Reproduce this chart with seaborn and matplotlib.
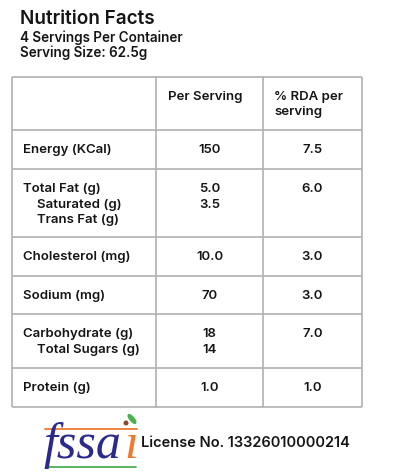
import matplotlib
matplotlib.use("Agg")
import matplotlib.pyplot as plt
import seaborn as sns
from matplotlib.patches import Ellipse, Circle

# Table content
col_headers = ["Per Serving", "% RDA per\nserving"]
nutrients = [
    ["Energy (KCal)"],
    ["Total Fat (g)", "Saturated (g)", "Trans Fat (g)"],
    ["Cholesterol (mg)"],
    ["Sodium (mg)"],
    ["Carbohydrate (g)", "Total Sugars (g)"],
    ["Protein (g)"],
]
per_serving = [["150"], ["5.0", "3.5"], ["10.0"], ["70"], ["18", "14"], ["1.0"]]
rda = ["7.5", "6.0", "3.0", "3.0", "7.0", "1.0"]

title = "Nutrition Facts"
subtitle = ["4 Servings Per Container", "Serving Size: 62.5g"]
license_text = "License No. 13326010000214"

sns.set_theme(style="white")
plt.rcParams["font.family"] = ["Inter", "DejaVu Sans"]

W, H = 416, 473
fig = plt.figure(figsize=(W / 100, H / 100), dpi=100)
ax = fig.add_axes([0, 0, 1, 1])
ax.set_xlim(0, W)
ax.set_ylim(H, 0)
ax.axis("off")

TXT = "#151515"
GRID = "#b0b0b0"

# header block
ax.text(20, 19, title, fontsize=13.6, fontweight="semibold", color=TXT, va="center")
ax.text(20, 38, subtitle[0], fontsize=9.7, fontweight="semibold", color=TXT, va="center")
ax.text(20, 53, subtitle[1], fontsize=9.7, fontweight="semibold", color=TXT, va="center")

# table grid
col_x = [12, 156, 263, 362]
row_y = [77, 130, 169, 237, 276, 314, 368, 407]
for y in row_y:
    ax.plot([col_x[0], col_x[-1]], [y, y], color=GRID, lw=1.2, solid_capstyle="butt")
for x in col_x:
    ax.plot([x, x], [row_y[0], row_y[-1]], color=GRID, lw=1.2, solid_capstyle="butt")

body = dict(fontsize=9.5, fontweight="semibold", color=TXT, va="center")
ax.text(col_x[1] + 12, row_y[0] + 20, col_headers[0], **body)
ax.text(col_x[2] + 11, row_y[0] + 20, col_headers[1].split("\n")[0], **body)
ax.text(col_x[2] + 11, row_y[0] + 35, col_headers[1].split("\n")[1], **body)

step = 15.5
for i, names in enumerate(nutrients):
    top = row_y[i + 1] + 20
    for j, name in enumerate(names):
        indent = 0 if j == 0 else 14
        ax.text(col_x[0] + 11 + indent, top + j * step, name, **body)
    cx1 = (col_x[1] + col_x[2]) / 2
    for j, v in enumerate(per_serving[i]):
        ax.text(cx1, top + j * step, v, ha="center", **body)
    cx2 = (col_x[2] + col_x[3]) / 2
    ax.text(cx2, top, rda[i], ha="center", **body)

# fssai logo
navy = "#2b2a8c"
orange = "#ee7a2d"
green = "#4caf50"
ax.plot([45, 137], [429, 429], color=orange, lw=1.3)
ax.plot([46, 136], [467, 467], color=green, lw=1.3)
ax.text(43, 458, "fssa", fontsize=36, family="Liberation Serif", style="italic",
        color=navy, va="baseline")
ax.text(124, 458, "ı", fontsize=36, family="Liberation Serif", style="italic",
        color=orange, va="baseline")
ax.add_patch(Circle((126, 423), 1.8, color="#8b4a2b"))
ax.add_patch(Ellipse((132, 419), 4, 11, angle=-40, color=green))

ax.text(141, 443, license_text, fontsize=10.5, fontweight="semibold", color=TXT, va="center")

fig.savefig("out.png", dpi=100)
